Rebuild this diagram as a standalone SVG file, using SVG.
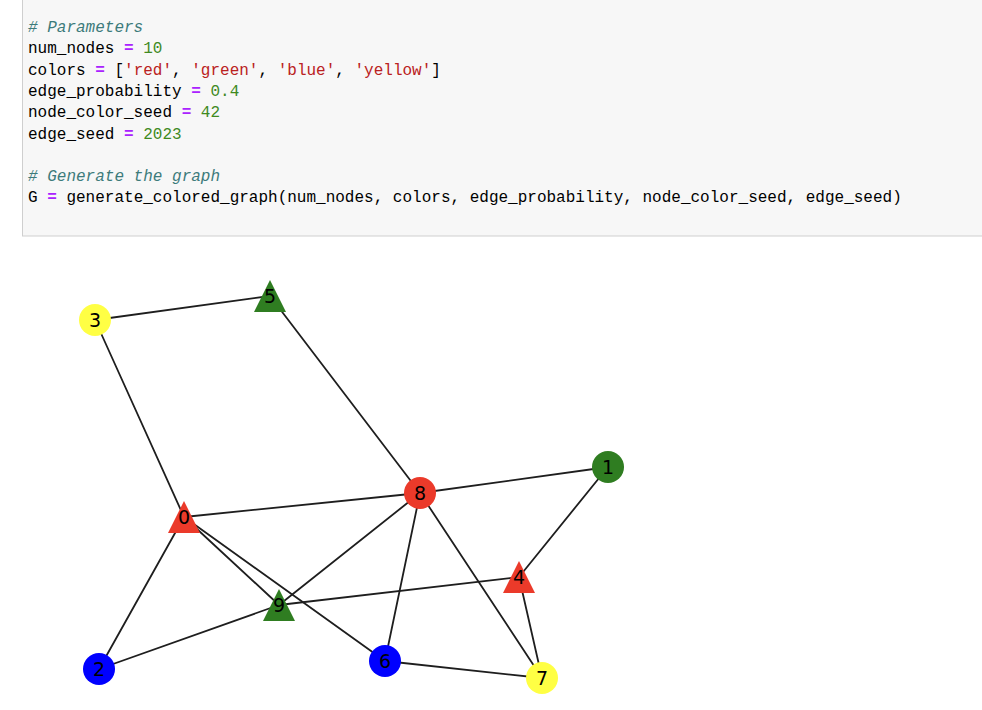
<svg xmlns="http://www.w3.org/2000/svg" width="982" height="710" viewBox="0 0 982 710">
  <style>
    .code { font-family: "Liberation Mono", "DejaVu Sans Mono", monospace; font-size: 16px; white-space: pre; }
    .cm { fill: #3d7b7b; font-style: italic; }
    .nm { fill: #000000; }
    .op { fill: #aa22ff; font-weight: bold; }
    .num { fill: #3f8a1f; }
    .str { fill: #ba2121; }
    .edge { stroke: #1e1e1e; stroke-width: 1.8; fill: none; stroke-linecap: round; }
    .lbl { font-family: "DejaVu Sans", sans-serif; font-size: 19px; fill: #000000; text-anchor: middle; dominant-baseline: central; }
    .red { fill: #eb3a2a; }
    .green { fill: #2f7d21; }
    .blue { fill: #0000ff; }
    .yellow { fill: #ffff44; }
  </style>

  <rect x="0" y="0" width="982" height="710" fill="#ffffff"/>

  <!-- code cell -->
  <g id="code-cell">
    <rect x="22.5" y="-2" width="970" height="238" fill="#f7f7f7" stroke="#cfcfcf" stroke-width="1"/>
    <text class="code" x="28" y="32"><tspan class="cm"># Parameters</tspan></text>
    <text class="code" x="28" y="53.3"><tspan class="nm">num_nodes </tspan><tspan class="op">=</tspan><tspan class="nm"> </tspan><tspan class="num">10</tspan></text>
    <text class="code" x="28" y="74.6"><tspan class="nm">colors </tspan><tspan class="op">=</tspan><tspan class="nm"> [</tspan><tspan class="str">'red'</tspan><tspan class="nm">, </tspan><tspan class="str">'green'</tspan><tspan class="nm">, </tspan><tspan class="str">'blue'</tspan><tspan class="nm">, </tspan><tspan class="str">'yellow'</tspan><tspan class="nm">]</tspan></text>
    <text class="code" x="28" y="95.9"><tspan class="nm">edge_probability </tspan><tspan class="op">=</tspan><tspan class="nm"> </tspan><tspan class="num">0.4</tspan></text>
    <text class="code" x="28" y="117.2"><tspan class="nm">node_color_seed </tspan><tspan class="op">=</tspan><tspan class="nm"> </tspan><tspan class="num">42</tspan></text>
    <text class="code" x="28" y="138.5"><tspan class="nm">edge_seed </tspan><tspan class="op">=</tspan><tspan class="nm"> </tspan><tspan class="num">2023</tspan></text>
    <text class="code" x="28" y="181.1"><tspan class="cm"># Generate the graph</tspan></text>
    <text class="code" x="28" y="202.4"><tspan class="nm">G </tspan><tspan class="op">=</tspan><tspan class="nm"> generate_colored_graph(num_nodes, colors, edge_probability, node_color_seed, edge_seed)</tspan></text>
  </g>

  <!-- connectors -->
  <g id="edges">
    <line class="edge" x1="95" y1="320" x2="270" y2="296"/>
    <line class="edge" x1="95" y1="320" x2="184" y2="517"/>
    <line class="edge" x1="270" y1="296" x2="420" y2="493"/>
    <line class="edge" x1="184" y1="517" x2="420" y2="493"/>
    <line class="edge" x1="420" y1="493" x2="608" y2="467"/>
    <line class="edge" x1="608" y1="467" x2="519" y2="577"/>
    <line class="edge" x1="184" y1="517" x2="99" y2="669"/>
    <line class="edge" x1="184" y1="517" x2="279" y2="605"/>
    <line class="edge" x1="184" y1="517" x2="385" y2="661"/>
    <line class="edge" x1="420" y1="493" x2="279" y2="605"/>
    <line class="edge" x1="420" y1="493" x2="385" y2="661"/>
    <line class="edge" x1="420" y1="493" x2="542" y2="678"/>
    <line class="edge" x1="99" y1="669" x2="279" y2="605"/>
    <line class="edge" x1="279" y1="605" x2="519" y2="577"/>
    <line class="edge" x1="519" y1="577" x2="542" y2="678"/>
    <line class="edge" x1="385" y1="661" x2="542" y2="678"/>
  </g>

  <!-- nodes -->
  <g id="node-3"><circle class="yellow" cx="95" cy="320" r="16"/><text class="lbl" x="95" y="320">3</text></g>
  <g id="node-5"><polygon class="green" points="270,280 254,312 286,312"/><text class="lbl" x="270" y="296">5</text></g>
  <g id="node-0"><polygon class="red" points="184,501 168,533 200,533"/><text class="lbl" x="184" y="517">0</text></g>
  <g id="node-9"><polygon class="green" points="279,589 263,621 295,621"/><text class="lbl" x="279" y="605">9</text></g>
  <g id="node-8"><circle class="red" cx="420" cy="493" r="16"/><text class="lbl" x="420" y="493">8</text></g>
  <g id="node-1"><circle class="green" cx="608" cy="467" r="16"/><text class="lbl" x="608" y="467">1</text></g>
  <g id="node-4"><polygon class="red" points="519,561 503,593 535,593"/><text class="lbl" x="519" y="577">4</text></g>
  <g id="node-6"><circle class="blue" cx="385" cy="661" r="16"/><text class="lbl" x="385" y="661">6</text></g>
  <g id="node-7"><circle class="yellow" cx="542" cy="678" r="16"/><text class="lbl" x="542" y="678">7</text></g>
  <g id="node-2"><circle class="blue" cx="99" cy="669" r="16"/><text class="lbl" x="99" y="669">2</text></g>
</svg>
